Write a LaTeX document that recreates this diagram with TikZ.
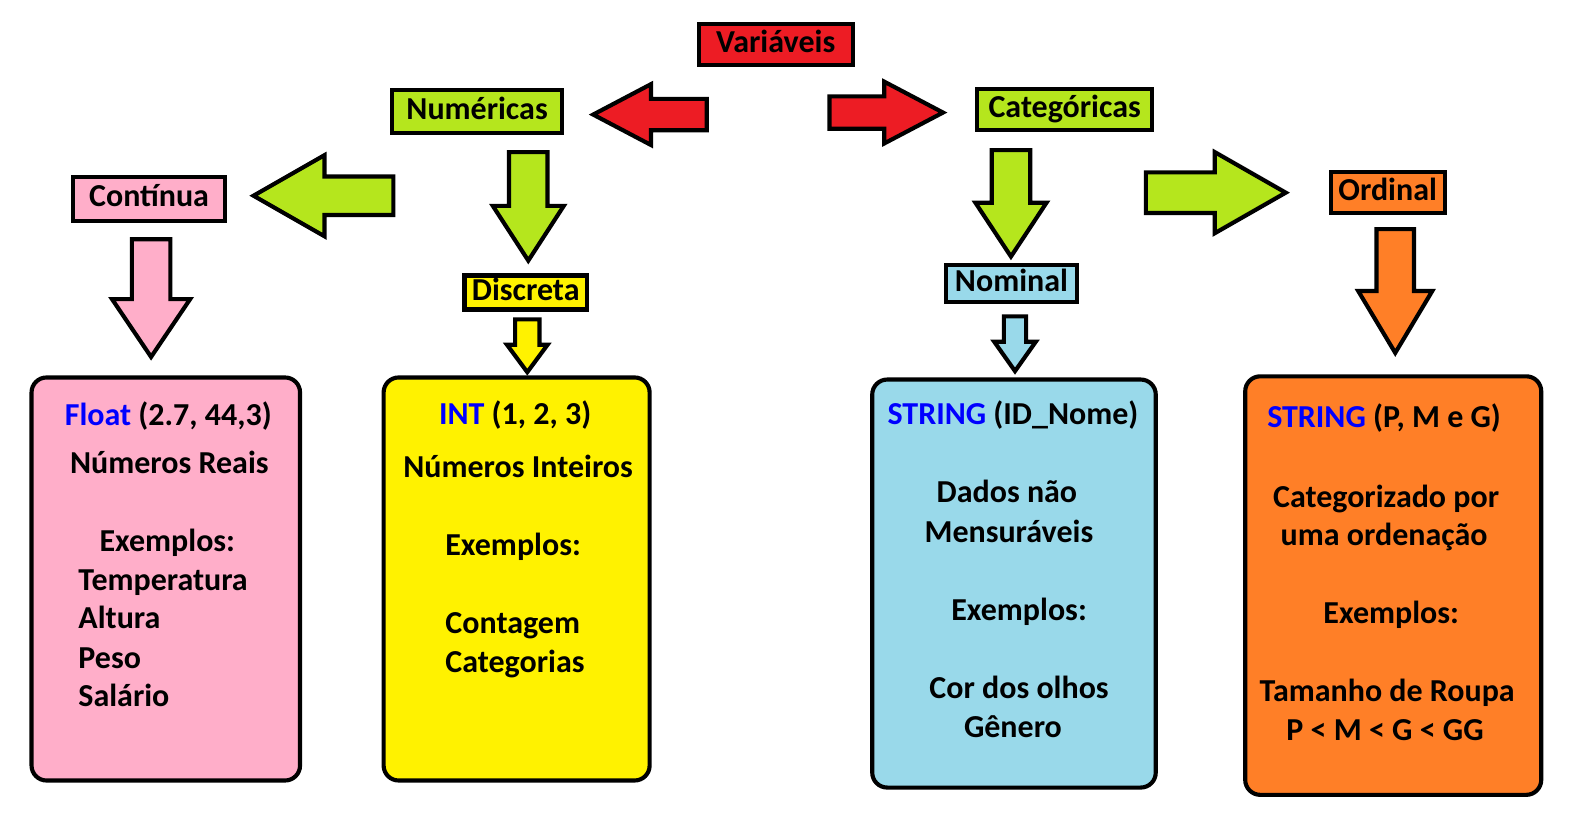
\documentclass[tikz,border=0pt]{standalone}
\usepackage{fontspec}
\setmainfont{Carlito}
\definecolor{redv}{HTML}{ED1C24}
\definecolor{limev}{HTML}{B5E61D}
\definecolor{pinkv}{HTML}{FFAEC9}
\definecolor{yellowv}{HTML}{FFF200}
\definecolor{bluev}{HTML}{99D9EA}
\definecolor{orangev}{HTML}{FF7F27}
\definecolor{typev}{HTML}{0000FF}
\newcommand{\boxfont}{\bfseries\fontsize{18.2}{22}\selectfont}
\tikzstyle{lbl}=[draw,line width=2.35pt,font=\boxfont,text height=0.86em,text depth=0em,inner sep=0pt]
\tikzstyle{bigbox}=[draw,line width=2.35pt,rounded corners=0.3cm,inner sep=0pt]
\tikzstyle{txt}=[font=\boxfont,inner sep=0pt,anchor=base]
\tikzstyle{arrline}=[draw,line width=2.35pt]
% block arrow: colour, tail, rotation, length, half shaft, half head, head length
\newcommand{\blockarrow}[7]{%
  \draw[arrline,fill=#1,shift={#2},rotate=#3]
    (0,-#5) -- (#4-#7,-#5) -- (#4-#7,-#6) -- (#4,0) -- (#4-#7,#6) -- (#4-#7,#5) -- (0,#5) -- cycle;}

\begin{document}
\begin{tikzpicture}[x=0.02028cm,y=-0.02028cm]
	\fill[white] (0,0) rectangle (1566.1,819.5);
	\useasboundingbox (0,0) rectangle (1566.1,819.5);

	% labels
	\node[lbl,fill=redv,minimum width=3.08cm,minimum height=0.82cm] (var) at (765,44) {Variáveis};
	\node[lbl,fill=limev,minimum width=3.39cm,minimum height=0.86cm] (num) at (470.5,110) {Numéricas};
	\node[lbl,fill=limev,minimum width=3.5cm,minimum height=0.82cm] (cat) at (1050,108) {Categóricas};
	\node[lbl,fill=pinkv,minimum width=3.04cm,minimum height=0.88cm] (cont) at (147,196.5) {Contínua};
	\node[lbl,fill=yellowv,minimum width=2.45cm,minimum height=0.68cm] (disc) at (518.5,288.5) {Discreta};
	\node[lbl,fill=bluev,minimum width=2.61cm,minimum height=0.74cm] (nom) at (997.5,280) {Nominal};
	\node[lbl,fill=orangev,minimum width=2.28cm,minimum height=0.82cm] (ord) at (1368.5,190) {Ordinal};

	% arrows
	\blockarrow{redv}{(697,113)}{180}{112}{15.5}{30}{57}
	\blockarrow{redv}{(818,111)}{0}{112}{16}{30.5}{58}
	\blockarrow{limev}{(388,193)}{180}{138}{19}{40}{70}
	\blockarrow{limev}{(521,150)}{-90}{107}{19}{35}{54}
	\blockarrow{yellowv}{(520,315)}{-90}{52}{12}{20}{27}
	\blockarrow{pinkv}{(149,236)}{-90}{116}{19}{38.5}{57}
	\blockarrow{limev}{(997,148)}{-90}{105}{19}{35}{53}
	\blockarrow{bluev}{(1001,312)}{-90}{54}{11}{20.5}{29}
	\blockarrow{limev}{(1130,190)}{0}{138}{20}{40}{70}
	\blockarrow{orangev}{(1376,226)}{-90}{122}{18.5}{36.5}{61}

	% boxes
	\node[bigbox,fill=pinkv,minimum width=5.37cm,minimum height=8.06cm] (real) at (163.5,571) {};
	\node[bigbox,fill=yellowv,minimum width=5.32cm,minimum height=8.06cm] (int) at (509.5,571) {};
	\node[bigbox,fill=bluev,minimum width=5.67cm,minimum height=8.16cm] (str) at (1000,575.5) {};
	\node[bigbox,fill=orangev,minimum width=5.92cm,minimum height=8.37cm] (strord) at (1374,577.5) {};

	% Float
	\node[txt] (r1) at (166,420) {\textcolor{typev}{Float} (2.7, 44,3)};
	\node[txt] (r2) at (167,467) {Números Reais};
	\node[txt] (r3) at (165,544) {Exemplos:};
	\foreach \ex/\yy [count=\k] in {Temperatura/582,Altura/620,Peso/659,Salário/697}
		\node[txt,anchor=base west] (rx\k) at (77,\yy) {\ex};

	% INT
	\node[txt] (i1) at (508,419) {\textcolor{typev}{INT} (1, 2, 3)};
	\node[txt] (i2) at (511,471) {Números Inteiros};
	\node[txt] (i3) at (506,548) {Exemplos:};
	\node[txt,anchor=base west] (ix1) at (439,625) {Contagem};
	\node[txt,anchor=base west] (ix2) at (439,663) {Categorias};

	% STRING nominal
	\node[txt] (s1) at (999,419) {\textcolor{typev}{STRING} (ID\_Nome)};
	\node[txt] (s2) at (993,496) {Dados não};
	\node[txt] (s3) at (995,535) {Mensuráveis};
	\node[txt] (s4) at (1005,612) {Exemplos:};
	\node[txt] (s5) at (1005,689) {Cor dos olhos};
	\node[txt] (s6) at (999,727) {Gênero};

	% STRING ordinal
	\node[txt] (o1) at (1365,422) {\textcolor{typev}{STRING} (P, M e G)};
	\node[txt] (o2) at (1367,500) {Categorizado por};
	\node[txt] (o3) at (1365,538) {uma ordenação};
	\node[txt] (o4) at (1372,615) {Exemplos:};
	\node[txt] (o5) at (1368,692) {Tamanho de Roupa};
	\node[txt] (o6) at (1366,730) {P < M < G < GG};
\end{tikzpicture}
\end{document}
